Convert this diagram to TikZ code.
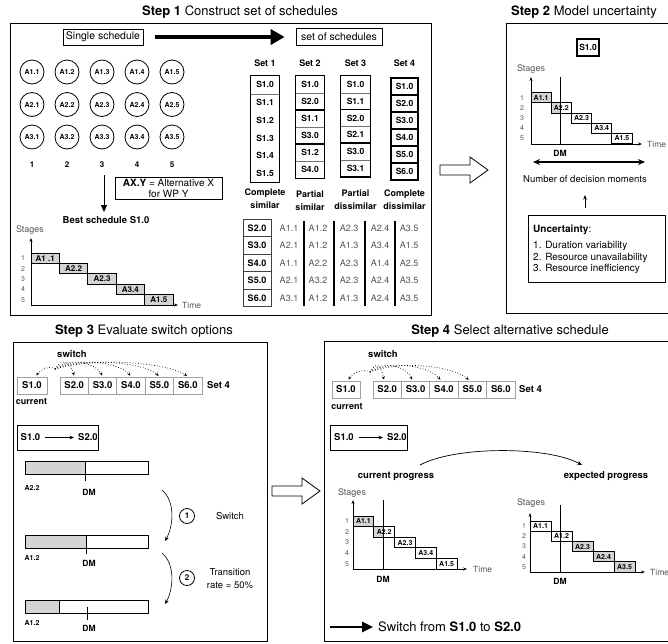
\documentclass[tikz,border=0pt]{standalone}
\usepackage{fontspec}
\setmainfont{TeX Gyre Heros}
\usetikzlibrary{arrows.meta,backgrounds,calc}
\newcommand{\fsz}[2]{\fontsize{#1}{#2}\selectfont}
\definecolor{barfill}{HTML}{D4D4D4}
\definecolor{txtgray}{HTML}{555555}
\definecolor{cellline}{HTML}{A0A0A0}
\begin{document}
\begin{tikzpicture}[x=1pt,y=-1pt,
  frame/.style={draw=black, line width=0.9pt},
  ttl/.style={inner sep=0pt, font=\fsz{13}{15}},
  tx/.style={inner sep=0pt, font=\fsz{#1}{#1}},
  bx/.style={inner sep=0pt, font=\fsz{#1}{#1}\bfseries},
  gtx/.style={inner sep=0pt, text=txtgray, font=\fsz{#1}{#1}},
  alt/.style={circle, draw, line width=0.8pt, minimum size=24pt, inner sep=0pt, font=\fsz{7}{7}\bfseries},
  setc/.style={minimum width=28pt, inner sep=0pt, font=\fsz{8.5}{8.5}\bfseries},
  thickbox/.style={draw, line width=1.3pt},
  thinsep/.style={draw=black!55, line width=0.5pt},
  tcell/.style={draw=black!75, line width=0.8pt, minimum width=28pt, minimum height=17.5pt, inner sep=0pt, font=\fsz{9}{9}\bfseries},
  tval/.style={inner sep=0pt, text=txtgray, font=\fsz{9}{9}},
  ax/.style={line width=0.6pt, -{Stealth[length=4pt,width=3pt]}},
  gbar/.style={draw=black, line width=0.7pt, inner sep=0pt, font=\fsz{7}{7}\bfseries},
  dmline/.style={line width=0.8pt},
  scell/.style={draw=cellline, line width=0.8pt, minimum width=28.4pt, minimum height=17pt, inner sep=0pt, font=\fsz{9.5}{9.5}\bfseries},
  dotarr/.style={dotted, line width=0.7pt, -{Stealth[length=3.5pt,width=3pt]}, shorten >=1pt},
  pbar/.style={draw, line width=0.8pt, minimum width=123pt, minimum height=13pt, inner sep=0pt},
  num/.style={circle, draw, line width=0.8pt, minimum size=15pt, inner sep=0pt, font=\fsz{8}{8}\bfseries},
  hollow/.style={draw, line width=0.8pt, fill=white, line join=miter},
  thinarr/.style={line width=0.6pt, -{Stealth[length=4.5pt,width=3.5pt]}}
]
\useasboundingbox (0,0) rectangle (668,643);

%================ STEP 1 ================
\node[ttl] (t1) at (240,12) {\textbf{Step 1} Construct set of schedules};
\draw[frame] (10,23) rectangle (431,315);
\node[draw, line width=0.7pt, minimum width=80pt, minimum height=16pt, inner sep=0pt, font=\fsz{10.5}{10.5}] (single) at (103,37) {Single schedule};
\node[draw, line width=0.7pt, minimum width=86pt, minimum height=17pt, inner sep=0pt, font=\fsz{10.5}{10.5}] (setof) at (339,37) {set of schedules};
\draw[line width=3.5pt, -{Triangle[length=14pt,width=15pt]}, shorten <=12pt, shorten >=11pt] (single) -- (setof);

\foreach \r/\yy in {1/72,2/104.5,3/137}
  \foreach \c/\xx in {1/32,2/67,3/102,4/137,5/172}
    \node[alt] (a\r\c) at (\xx,\yy) {A\r.\c};
\foreach \c/\xx in {1/32,2/67,3/102,4/137,5/172}
  \node[bx=8] (col\c) at (\xx,165) {\c};

\coordinate (d1) at (104,175);
\coordinate (d2) at (104,212);
\draw[line width=1pt, -{Triangle[length=7pt,width=6pt]}] (d1) -- (d2);
\node[draw, line width=0.7pt, minimum width=107pt, minimum height=22pt, inner sep=0pt, align=center, font=\fsz{10}{11}] (legend) at (168.5,188) {\textbf{AX.Y} = Alternative X\\for WP Y};
\node[bx=9.5] (best) at (106,220) {Best schedule S1.0};

% gantt 1
\coordinate (g1o) at (31,305);
\coordinate (g1y) at (31,238);
\coordinate (g1x) at (178,305);
\draw[ax] (g1o) -- (g1y);
\draw[ax] (g1o) -- (g1x);
\node[gtx=9] (g1s) at (30,230) {Stages};
\node[gtx=8.5, anchor=west] (g1t) at (182,305) {Time};
\begin{scope}[bb/.style={gbar, fill=barfill, minimum width=28.4pt, minimum height=10.4pt, font=\fsz{8}{8}\bfseries}]
\node[bb] (g1a) at (45.2,258.2) {A1 .1};
\node[bb] (g1b) at (73.6,268.6) {A2.2};
\node[bb] (g1c) at (102,279) {A2.3};
\node[bb] (g1d) at (130.4,289.4) {A3.4};
\node[bb] (g1e) at (158.8,299.8) {A1.5};
\end{scope}
\foreach \i/\yy in {1/258.2,2/268.6,3/279,4/289.4,5/299.8}
  \node[gtx=7] (g1n\i) at (23,\yy) {\i};

% sets
\node[bx=9] (set1) at (265,63) {Set 1};
\node[bx=9] (set2) at (310,63) {Set 2};
\node[bx=9] (set3) at (355.5,63) {Set 3};
\node[bx=9] (set4) at (404.5,63) {Set 4};

\foreach \t [count=\i from 0, evaluate=\i as \yy using 84.85+17.7*\i] in {S1.0,S1.1,S1.2,S1.3,S1.4,S1.5}
  \node[setc, minimum height=17.7pt] (p1\i) at (265,\yy) {\t};
\draw[thickbox] (p10.north west) rectangle (p15.south east);
\draw[thinsep] (p10.south west) -- (p10.south east);

\foreach \t [count=\i from 0, evaluate=\i as \yy using 84.5+17*\i] in {S1.0,S2.0,S1.1,S3.0,S1.2,S4.0}
  \node[setc, minimum height=17pt] (p2\i) at (310,\yy) {\t};
\foreach \a/\b in {0/1,2/3,4/5} {
  \draw[thickbox] (p2\a.north west) rectangle (p2\b.south east);
  \draw[thinsep] (p2\a.south west) -- (p2\a.south east);
}

\foreach \t [count=\i from 0, evaluate=\i as \yy using 84.4+16.8*\i] in {S1.0,S1.1,S2.0,S2.1,S3.0,S3.1}
  \node[setc, minimum width=29pt, minimum height=16.8pt] (p3\i) at (355.5,\yy) {\t};
\foreach \a/\b in {0/1,2/3,4/5} {
  \draw[thickbox] (p3\a.north west) rectangle (p3\b.south east);
  \draw[thinsep] (p3\a.south west) -- (p3\a.south east);
}

\foreach \t [count=\i from 0, evaluate=\i as \yy using 86.5+17*\i] in {S1.0,S2.0,S3.0,S4.0,S5.0,S6.0}
  \node[setc, thickbox, minimum width=27pt, minimum height=17pt] (p4\i) at (404.5,\yy) {\t};

\node[bx=9, align=center, font=\fsz{9}{13}\bfseries] (ds1) at (265,199) {Complete\\similar};
\node[bx=9, align=center, font=\fsz{9}{13}\bfseries] (ds2) at (310,201) {Partial\\similar};
\node[bx=9, align=center, font=\fsz{9}{13}\bfseries] (ds3) at (355.5,200) {Partial\\dissimilar};
\node[bx=9, align=center, font=\fsz{9}{13}\bfseries] (ds4) at (404.5,200) {Complete\\dissimilar};

% table
\foreach \s [count=\i from 0, evaluate=\i as \yy using 228+17.5*\i] in {2,3,4,5,6}
  \node[tcell] (ts\s) at (257,\yy) {S\s.0};
\foreach \a/\xx [count=\j] in {A1.1/289,A1.2/318,A2.3/349,A2.4/380,A3.5/409}
  \node[tval] (tv2\j) at (\xx,228) {\a};
\foreach \a/\xx [count=\j] in {A2.1/289,A1.2/318,A1.3/349,A3.4/380,A1.5/409}
  \node[tval] (tv3\j) at (\xx,245.5) {\a};
\foreach \a/\xx [count=\j] in {A1.1/289,A2.2/318,A2.3/349,A1.4/380,A2.5/409}
  \node[tval] (tv4\j) at (\xx,263) {\a};
\foreach \a/\xx [count=\j] in {A2.1/289,A3.2/318,A2.3/349,A2.4/380,A3.5/409}
  \node[tval] (tv5\j) at (\xx,280.5) {\a};
\foreach \a/\xx [count=\j] in {A3.1/289,A1.2/318,A1.3/349,A2.4/380,A3.5/409}
  \node[tval] (tv6\j) at (\xx,298) {\a};
\foreach \xx in {304,334,365,395}
  \draw[line width=1.1pt] (\xx,221) -- (\xx,306);

% hollow arrow 1->2
\draw[hollow] (440,165) -- (470,165) -- (470,157) -- (488,170) -- (470,183) -- (470,175) -- (440,175) -- cycle;

%================ STEP 2 ================
\node[ttl] (t2) at (584,12) {\textbf{Step 2} Model uncertainty};
\draw[frame] (506,23) rectangle (672,313);
\node[draw, line width=1.2pt, minimum width=22pt, minimum height=17pt, inner sep=0pt, font=\fsz{8.5}{8.5}\bfseries] (s2box) at (588,47.5) {S1.0};
\coordinate (g2o) at (531,144);
\coordinate (g2y) at (531,77);
\coordinate (g2x) at (642,144);
\draw[ax] (g2o) -- (g2y);
\draw[ax] (g2o) -- (g2x);
\node[gtx=9] (g2s) at (531,69) {Stages};
\node[gtx=8.5, anchor=west] (g2t) at (647,144) {Time};
\coordinate (dm2t) at (560,77);
\coordinate (dm2b) at (560,144);
\begin{scope}[bb/.style={gbar, minimum width=20.2pt, minimum height=10.2pt}]
\node[bb, fill=barfill] (g2a) at (541.1,97.6) {A1.1};
\node[bb] (g2b) at (561.3,107.8) {A2.2};
\node[bb] (g2c) at (581.5,118) {A2.3};
\node[bb] (g2d) at (601.7,128.2) {A3.4};
\node[bb] (g2e) at (621.9,138.4) {A1.5};
\end{scope}
\begin{scope}[on background layer]
\fill[barfill] (g2b.north west) rectangle (g2b.south west -| dm2t);
\end{scope}
\foreach \i/\yy in {1/97.6,2/107.8,3/118,4/128.2,5/138.4}
  \node[gtx=7] (g2n\i) at (522,\yy) {\i};
\draw[dmline] (dm2t) -- (dm2b);
\node[bx=8.5] (dm2) at (560,153) {DM};
\coordinate (nd1) at (533,162);
\coordinate (nd2) at (645,162);
\draw[line width=1.3pt, {Stealth[length=7pt,width=6pt]}-{Stealth[length=7pt,width=6pt]}] (nd1) -- (nd2);
\node[tx=9.5] (ndm) at (585,179) {Number of decision moments};
\coordinate (ua) at (585,208);
\coordinate (ub) at (585,195);
\draw[thinarr] (ua) -- (ub);
\node[draw, line width=0.7pt, minimum width=137pt, minimum height=67pt, inner sep=0pt] (unc) at (596.5,248.5) {};
\node[tx=10, anchor=west] (u0) at (533,230) {\textbf{Uncertainty}:};
\node[tx=10, anchor=west] (u1) at (533,246) {1. Duration variability};
\node[tx=10, anchor=west] (u2) at (533,257.5) {2. Resource unavailability};
\node[tx=10, anchor=west] (u3) at (533,269) {3. Resource inefficiency};

%================ STEP 3 ================
\node[ttl] (t3) at (144,331) {\textbf{Step 3} Evaluate switch options};
\draw[frame] (13,342) rectangle (267,641);
\node[bx=9.5] (sw3) at (72,354) {switch};
\node[scell, minimum width=30pt] (c31) at (32,385.5) {S1.0};
\foreach \i/\xx in {2/74.2,3/102.6,4/131,5/159.4,6/187.8}
  \node[scell] (c3\i) at (\xx,385.5) {S\i.0};
\node[bx=9.5, anchor=west] (set43) at (207,385.5) {Set 4};
\node[bx=9] (cur3) at (31.5,401) {current};
\coordinate (o3) at (55,369);
\draw[dotarr] (o3) .. controls +(-6,-4) and +(4,-7) .. ($(c31.north)+(4,0)$);
\foreach \i/\a/\b in {2/8/3,3/15/6,4/25/10,5/35/14,6/45/18}
  \draw[dotarr] (o3) .. controls +(\a,-13) and +(-\b,-13) .. (c3\i.north);
\node[draw, line width=0.9pt, minimum width=81pt, minimum height=25pt, inner sep=0pt] (tr3) at (57.5,437.5) {};
\node[bx=9.5] (tr3a) at (30.5,437.5) {S1.0};
\node[bx=9.5] (tr3b) at (88,437.5) {S2.0};
\draw[thinarr, shorten <=5pt, shorten >=4pt] (tr3a) -- (tr3b);

\node[pbar] (pb1) at (86.5,468) {};
\node[pbar] (pb2) at (86.5,541.5) {};
\node[pbar] (pb3) at (86.5,606.5) {};
\begin{scope}[on background layer]
\fill[barfill] (pb1.north west) rectangle ($(pb1.south west)+(61,0)$);
\fill[barfill] (pb2.north west) rectangle ($(pb2.south west)+(62,0)$);
\fill[barfill] (pb3.north west) rectangle ($(pb3.south west)+(35,0)$);
\end{scope}
\draw[dmline] ($(pb1.north west)+(61,0)$) -- ($(pb1.south west)+(61,6)$);
\draw[dmline] ($(pb2.north west)+(62,0)$) -- ($(pb2.south west)+(62,6)$);
\draw[dmline] ($(pb3.north west)+(35,0)$) -- ($(pb3.south west)+(35,0)$);
\draw[dmline] ($(pb3.west)+(63,0)$) -- ($(pb3.south west)+(63,7)$);
\node[bx=7] (pl1) at (32,488) {A2.2};
\node[bx=8.5] (pd1) at (89,492) {DM};
\node[bx=7] (pl2) at (32,558) {A1.2};
\node[bx=8.5] (pd2) at (89,563) {DM};
\node[bx=7] (pl3) at (32,623) {A1.2};
\node[bx=8.5] (pd3) at (89,628) {DM};

\coordinate (k1a) at (162,490);
\coordinate (k1b) at (165,541);
\coordinate (k2a) at (162,553);
\coordinate (k2b) at (165,604);
\draw[thinarr] (k1a) .. controls +(14,12) and +(8,-14) .. (k1b);
\draw[thinarr] (k2a) .. controls +(14,12) and +(8,-14) .. (k2b);
\node[num] (n31) at (187,516) {1};
\node[tx=9.5] (sw31) at (230,516) {Switch};
\node[num] (n32) at (187,578) {2};
\node[inner sep=0pt, align=center, font=\fsz{9.5}{12.5}] (sw32) at (230,578.5) {Transition\\rate = 50\%};

% hollow arrow 3->4
\draw[hollow] (272,486) -- (302,486) -- (302,478) -- (320,491) -- (302,504) -- (302,496) -- (272,496) -- cycle;

%================ STEP 4 ================
\node[ttl] (t4) at (510,331) {\textbf{Step 4} Select alternative schedule};
\draw[frame] (324,341) rectangle (672,641);
\node[bx=9.5] (sw4) at (383,354) {switch};
\node[scell, minimum width=28pt] (c41) at (346,389.5) {S1.0};
\foreach \i/\xx in {2/387.2,3/415.6,4/444,5/472.4,6/500.8}
  \node[scell] (c4\i) at (\xx,389.5) {S\i.0};
\node[bx=9.5, anchor=west] (set44) at (519,389.5) {Set 4};
\node[bx=9] (cur4) at (347,406) {current};
\coordinate (o4) at (370,372);
\draw[dotarr] (o4) .. controls +(-8,-4) and +(4,-7) .. ($(c41.north)+(2,0)$);
\foreach \i/\a/\b in {2/8/3,3/15/6,4/25/10,5/35/14}
  \draw[dotarr] (o4) .. controls +(\a,-13) and +(-\b,-13) .. ($(c4\i.north)+(-3,0)$);
\node[draw, line width=0.9pt, minimum width=77pt, minimum height=25pt, inner sep=0pt] (tr4) at (368.5,437.5) {};
\node[bx=9.5] (tr4a) at (344,437.5) {S1.0};
\node[bx=9.5] (tr4b) at (397,437.5) {S2.0};
\draw[thinarr, shorten <=5pt, shorten >=4pt] (tr4a) -- (tr4b);

\coordinate (bl) at (420,465);
\coordinate (br) at (582,465);
\draw[line width=0.7pt, -{Stealth[length=5pt,width=4pt]}] (bl) .. controls +(35,-19) and +(-35,-19) .. (br);
\node[bx=9.5] (cp) at (396,476) {current progress};
\node[bx=9.5] (ep) at (606,476) {expected progress};

% gantt 3 (current progress)
\coordinate (g3o) at (353,569);
\coordinate (g3y) at (353,500);
\coordinate (g3x) at (467,569);
\draw[ax] (g3o) -- (g3y);
\draw[ax] (g3o) -- (g3x);
\node[gtx=9] (g3s) at (352,493) {Stages};
\node[gtx=8.5, anchor=west] (g3t) at (473,569) {Time};
\coordinate (dm3t) at (383,500);
\coordinate (dm3b) at (383,569);
\begin{scope}[bb/.style={gbar, minimum width=20.8pt, minimum height=10.6pt}]
\node[bb, fill=barfill] (g3a) at (363.4,521.3) {A1.1};
\node[bb] (g3b) at (384.2,531.9) {A2.2};
\node[bb] (g3c) at (405,542.5) {A2.3};
\node[bb] (g3d) at (425.8,553.1) {A3.4};
\node[bb] (g3e) at (446.6,563.7) {A1.5};
\end{scope}
\begin{scope}[on background layer]
\fill[barfill] (g3b.north west) rectangle (g3b.south west -| dm3t);
\end{scope}
\foreach \i/\yy in {1/521.3,2/531.9,3/542.5,4/553.1,5/563.7}
  \node[gtx=7] (g3n\i) at (347,\yy) {\i};
\draw[dmline] (dm3t) -- (dm3b);
\node[bx=8.5] (dm3) at (383,579) {DM};

% gantt 4 (expected progress)
\coordinate (g4o) at (530,572);
\coordinate (g4y) at (530,513);
\coordinate (g4x) at (645,572);
\draw[ax] (g4o) -- (g4y);
\draw[ax] (g4o) -- (g4x);
\node[gtx=9] (g4s) at (531,503) {Stages};
\node[gtx=8.5, anchor=west] (g4t) at (650,572) {Time};
\coordinate (dm4t) at (560,505);
\coordinate (dm4b) at (560,572);
\begin{scope}[bb/.style={gbar, minimum width=21pt, minimum height=10.2pt}]
\node[bb] (g4a) at (540.5,526.1) {A1.1};
\node[bb] (g4b) at (561.5,536.3) {A1.2};
\node[bb, fill=barfill] (g4c) at (582.5,546.5) {A2.3};
\node[bb, fill=barfill] (g4d) at (603.5,556.7) {A2.4};
\node[bb, fill=barfill] (g4e) at (624.5,566.9) {A3.5};
\end{scope}
\foreach \i/\yy in {1/526.1,2/536.3,3/546.5,4/556.7,5/566.9}
  \node[gtx=7] (g4n\i) at (524,\yy) {\i};
\draw[dmline] (dm4t) -- (dm4b);
\node[bx=8.5] (dm4) at (560,581) {DM};

\coordinate (sfa) at (330,627);
\node[tx=13, anchor=west] (sft) at (378,627) {Switch from \textbf{S1.0} to \textbf{S2.0}};
\draw[line width=2.5pt, -{Triangle[length=11pt,width=10pt]}, shorten >=5pt] (sfa) -- (sft.west);

\end{tikzpicture}
\end{document}
